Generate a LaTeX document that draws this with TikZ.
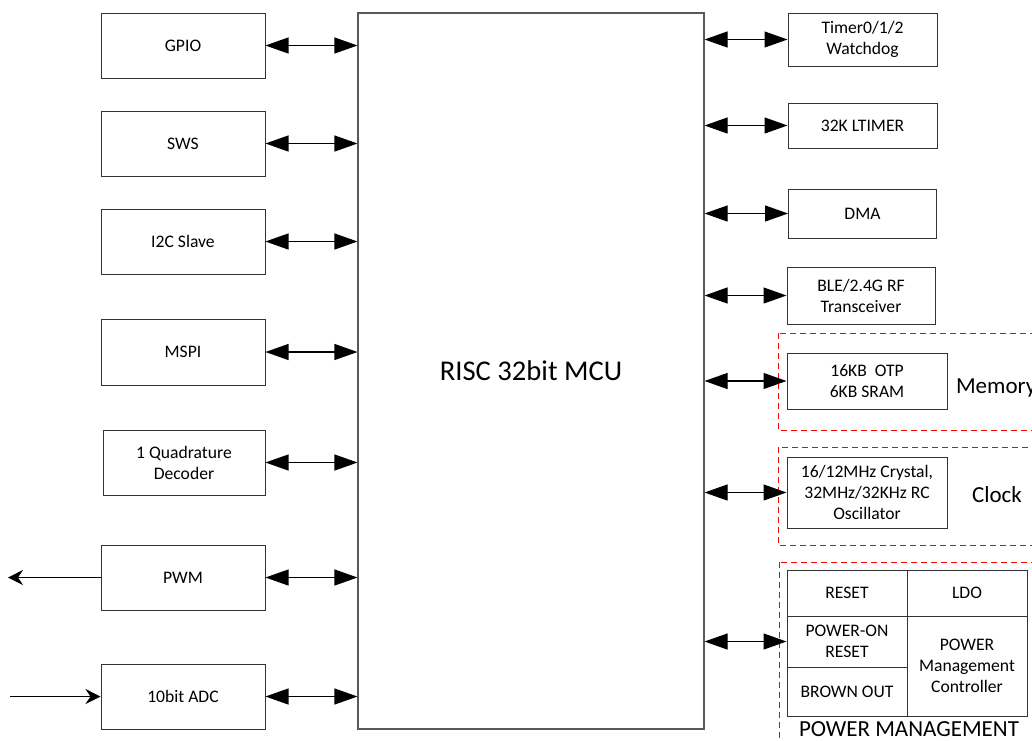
\documentclass[tikz,border=0pt]{standalone}
\usepackage{fontspec}
\setmainfont{Carlito}
\usetikzlibrary{arrows.meta}

\begin{document}
\begin{tikzpicture}[x=0.5pt,y=-0.5pt,
  blk/.style={draw=black!80,line width=0.5pt,align=center,inner sep=1pt,
    font=\fontsize{8.8}{10.5}\selectfont},
  bus/.style={line width=0.55pt,{Triangle[length=11.5pt,width=8pt]}-{Triangle[length=11.5pt,width=8pt]}},
  io/.style={line width=0.55pt,-{Stealth[length=7.5pt,width=7.5pt,inset=2.5pt]}},
  grp/.style={draw=red,dashed,dash pattern=on 3pt off 2pt,line width=0.5pt},
  big/.style={font=\fontsize{11.5}{13}\selectfont}]
  \useasboundingbox (0,0) rectangle (1032,740);
  % core
  \node[draw=black!65,line width=0.55pt,minimum width=173pt,minimum height=358pt,
    font=\fontsize{14.3}{16}\selectfont] (mcu) at (531,371) {RISC 32bit MCU};
  % peripherals, left column
  \foreach \nm/\cx/\cy/\w/\h/\txt in {
      gpio/183/45.5/82/32.5/GPIO,
      sws/183/143.5/82/32.5/SWS,
      iic/183/241.5/82/32.5/I2C Slave,
      mspi/183/352/82/33/MSPI,
      qdec/184/462.5/81/32.5/{1 Quadrature\\Decoder},
      pwm/183/577.5/82/32.5/PWM,
      adc/183/696.5/82/32.5/10bit ADC} {
    \node[blk,minimum width=\w pt,minimum height=\h pt] (\nm) at (\cx,\cy) {\txt};
  }
  % peripherals, right column
  \foreach \nm/\cx/\cy/\w/\h/\txt in {
      tmr/862.5/39.5/74.5/26.5/{Timer0/1/2\\Watchdog},
      ltmr/862.5/125.5/74.5/22.5/32K LTIMER,
      dma/862.5/213.5/74/24.5/DMA,
      rf/861/295.5/74/28.5/{BLE/2.4G RF\\Transceiver},
      mem/867/381/80/28/{16KB\ \ OTP\\6KB SRAM},
      clk/867/492.5/80/35.5/{16/12MHz Crystal,\\32MHz/32KHz RC\\Oscillator}} {
    \node[blk,minimum width=\w pt,minimum height=\h pt] (\nm) at (\cx,\cy) {\txt};
  }
  % power management cells
  \node[blk,minimum width=60pt,minimum height=23pt] (rst) at (847,593) {RESET};
  \node[blk,minimum width=60pt,minimum height=23pt] (ldo) at (967,593) {LDO};
  \node[blk,minimum width=60pt,minimum height=25.5pt] (por) at (847,641.5) {POWER-ON\\RESET};
  \node[blk,minimum width=60pt,minimum height=24.5pt] (bod) at (847,691.5) {BROWN OUT};
  \node[blk,minimum width=60pt,minimum height=50pt] (pmc) at (967,666) {POWER\\Management\\Controller};
  % groups
  \draw[grp] (778,333) rectangle (1045,430);
  \draw[grp] (778,447) rectangle (1045,545);
  \draw[grp] (779,562) rectangle (1045,760);
  \node[big,anchor=west] (memlbl) at (949,388) {Memory};
  \node[big] (clklbl) at (997,495) {Clock};
  \node[big] (pwrlbl) at (909,729) {POWER MANAGEMENT};
  % buses
  \foreach \nm in {gpio,sws,iic,mspi,qdec,pwm,adc}
    \draw[bus] (\nm.east) -- (\nm.east -| mcu.west);
  \foreach \nm in {tmr,ltmr,dma,rf,mem,clk,por}
    \draw[bus] (mcu.east |- \nm.west) -- (\nm.west);
  % external pins
  \coordinate (pwmout) at (8,577.5);
  \coordinate (adcin) at (10,696.5);
  \draw[io] (pwm.west) -- (pwmout);
  \draw[io] (adcin) -- (adc.west);
\end{tikzpicture}
\end{document}
